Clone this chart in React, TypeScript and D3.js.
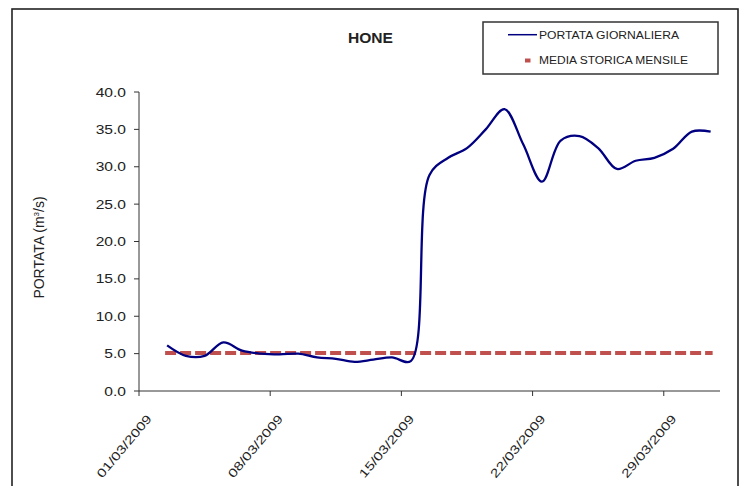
import React from "react";
import * as d3 from "d3";

const dates: string[] = [
  "2009-03-02","2009-03-03","2009-03-04","2009-03-05","2009-03-06","2009-03-07","2009-03-08","2009-03-09","2009-03-10","2009-03-11",
  "2009-03-12","2009-03-13","2009-03-14","2009-03-15","2009-03-16","2009-03-17","2009-03-18","2009-03-19","2009-03-20","2009-03-21",
  "2009-03-22","2009-03-23","2009-03-24","2009-03-25","2009-03-26","2009-03-27","2009-03-28","2009-03-29","2009-03-30","2009-03-31",
];
const portata: number[] = [
  6.1, 4.7, 4.7, 6.5, 5.4, 5.0, 4.9, 5.0, 4.5, 4.3,
  3.9, 4.2, 4.5, 4.0, 28.9, 31.2, 32.5, 35.0, 37.7, 33.0,
  28.0, 33.5, 34.1, 32.5, 29.7, 30.8, 31.2, 32.4, 34.7, 34.7,
];
const mediaStorica: number[] = dates.map(() => 5.1);
const yTicks: number[] = [0, 5, 10, 15, 20, 25, 30, 35, 40];
const xTickDates: string[] = ["2009-03-01", "2009-03-08", "2009-03-15", "2009-03-22", "2009-03-29"];
const xDomain: string[] = ["2009-03-01", "2009-04-01"];
const title = "HONE";
const seriesNames: string[] = ["PORTATA GIORNALIERA", "MEDIA STORICA MENSILE"];

const parse = (s: string) => new Date(s + "T00:00:00");
const HALF_DAY = 12 * 3600 * 1000;
const fmt = d3.timeFormat("%d/%m/%Y");

export default function App() {
  const x = d3.scaleTime().domain(xDomain.map(parse)).range([139, 720]);
  const y = d3.scaleLinear().domain([0, 40]).range([391, 92]);
  const xc = (s: string) => x(new Date(parse(s).getTime() + HALF_DAY));

  const line = d3
    .line<number>()
    .x((_, i) => xc(dates[i]))
    .y((v) => y(v))
    .curve(d3.curveCatmullRom.alpha(0.5));
  const flat = d3
    .line<number>()
    .x((_, i) => xc(dates[i]))
    .y((v) => y(v));

  const font = "'Liberation Sans', Arial, sans-serif";
  const txt = "#222";

  return (
    <svg width={744} height={486} style={{ position: "absolute", left: 0, top: 0, background: "#fff" }} fontFamily={font}>
      <rect x={12} y={9} width={726} height={490} fill="#fff" stroke="#222" strokeWidth={1.6} />
      <text x={348} y={43} fontSize={14} fontWeight="bold" fill={txt} textLength={45} lengthAdjust="spacingAndGlyphs">{title}</text>

      {/* legend */}
      <rect x={483} y={22} width={235} height={52} fill="#fff" stroke="#333" strokeWidth={1.5} />
      <line x1={508} x2={537} y1={34.7} y2={34.7} stroke="#000080" strokeWidth={1.5} />
      <text x={539} y={38.5} fontSize={10} fill={txt} textLength={140} lengthAdjust="spacingAndGlyphs">{seriesNames[0]}</text>
      <line x1={525} x2={530.5} y1={60.5} y2={60.5} stroke="#C0504D" strokeWidth={4} />
      <text x={539} y={64.3} fontSize={10} fill={txt} textLength={149} lengthAdjust="spacingAndGlyphs">{seriesNames[1]}</text>

      {/* y axis */}
      <line x1={139} x2={139} y1={y(40)} y2={y(0)} stroke="#333" strokeWidth={1} />
      {yTicks.map((t) => (
        <g key={t}>
          <line x1={134} x2={139} y1={y(t)} y2={y(t)} stroke="#333" />
          <text transform={`translate(126,${y(t) + 4.5}) scale(1.2,1)`} textAnchor="end" fontSize={13} fill={txt}>
            {t.toFixed(1)}
          </text>
        </g>
      ))}
      <text transform="translate(44,247.5) rotate(-90)" textAnchor="middle" fontSize={14} fill={txt}>
        PORTATA (m<tspan fontSize={8} dy={-5}>3</tspan><tspan dy={5}>/s)</tspan>
      </text>

      {/* x axis */}
      <line x1={139} x2={720} y1={391} y2={391} stroke="#333" strokeWidth={1} />
      {xTickDates.map((s) => {
        const tx = x(parse(s));
        const lx = xc(s);
        return (
          <g key={s}>
            <line x1={tx} x2={tx} y1={391} y2={396} stroke="#333" />
            <text
              transform={`translate(${lx + 4},${419}) rotate(-50)`}
              textAnchor="end"
              fontSize={12}
              fill={txt}
              textLength={78}
              lengthAdjust="spacingAndGlyphs"
            >
              {fmt(parse(s))}
            </text>
          </g>
        );
      })}

      {/* series */}
      <path d={flat(mediaStorica) || ""} fill="none" stroke="#C0504D" strokeWidth={4} strokeDasharray="7,8" strokeLinecap="square" />
      <path d={line(portata) || ""} fill="none" stroke="#000080" strokeWidth={2.3} />
    </svg>
  );
}
